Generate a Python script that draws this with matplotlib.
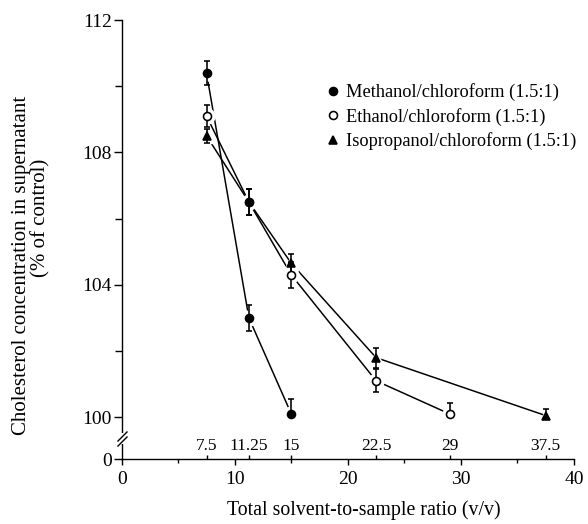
import numpy as np
import matplotlib
matplotlib.use('Agg')
import matplotlib.pyplot as plt

plt.rcParams['font.family'] = ['Liberation Serif', 'DejaVu Serif']

# solvent-to-sample ratios and cholesterol in supernatant (% of control)
meth_x = [7.5, 11.25, 15]
meth_y = [110.4, 103.0, 100.1]
meth_err = [0.35, 0.4, 0.45]

eth_x = [7.5, 11.25, 15, 22.5, 29]
eth_y = [109.1, 106.5, 104.3, 101.1, 100.1]
eth_err = [0.32, 0.4, 0.4, 0.35, 0.33]

iso_x = [7.5, 11.25, 15, 22.5, 37.5]
iso_y = [108.5, 106.5, 104.65, 101.8, 100.05]
iso_err = [0.22, 0.4, 0.28, 0.3, 0.2]

ratio_ticks = [7.5, 11.25, 15, 22.5, 29, 37.5]
ratio_labels = ['7.5', '11.25', '15', '22.5', '29', '37.5']

series = [
    ('Methanol/chloroform (1.5:1)', meth_x, meth_y, meth_err, 'o', 'black', 8),
    ('Ethanol/chloroform (1.5:1)', eth_x, eth_y, eth_err, 'o', 'white', 8),
    ('Isopropanol/chloroform (1.5:1)', iso_x, iso_y, iso_err, '^', 'black', 7.5),
]

# broken y axis: 0 squeezed just below 100
SQ = 0.0127
def fwd(y):
    y = np.asarray(y, dtype=float)
    return np.where(y >= 100, y - 100, (y - 100) * SQ)

def inv(v):
    v = np.asarray(v, dtype=float)
    return np.where(v >= 0, v + 100, v / SQ + 100)

fig = plt.figure(figsize=(5.88, 5.24), dpi=100)
ax = fig.add_axes([121.7 / 588, 1 - 459.3 / 524, (574 - 121.7) / 588, (459.3 - 20) / 524])
ax.set_yscale('function', functions=(fwd, inv))

px = 72 / 100.0  # points per pixel
for name, x, y, e, m, fc, ms in series:
    ax.plot(x, y, color='black', lw=1.5 * px, zorder=1)
    mk = None
    if name.startswith('Iso'):
        mk = [0, 2, 3, 4]  # hidden under the ethanol point at 11.25
    ax.plot(x, y, ls='none', marker=m, ms=(ms + 7) * px, mfc='white', mec='white',
            markevery=mk, zorder=2)
    ax.errorbar(x, y, yerr=e, fmt='none', ecolor='black', elinewidth=1.6 * px,
                capsize=3.2 * px, capthick=1.6 * px, zorder=3)
    ax.plot(x, y, ls='none', marker=m, ms=ms * px, mfc=fc, mec='black',
            mew=1.6 * px, markevery=mk, zorder=4, label=name)

# overlapping ethanol/isopropanol point reads as a solid dot
ax.plot(eth_x[1], eth_y[1], ls='none', marker='o', ms=8 * px, mfc='black',
        mec='black', zorder=5)

ax.set_xlim(0, 40)
ax.set_ylim(0, 112)
ax.set_xticks([0, 10, 20, 30, 40])
ax.set_xticks([5, 15, 25, 35], minor=True)
ax.set_yticks([0, 100, 104, 108, 112])
ax.set_yticks([102, 106, 110], minor=True)

for s in ['top', 'right']:
    ax.spines[s].set_visible(False)
for s in ['left', 'bottom']:
    ax.spines[s].set_linewidth(1.4 * px)

ax.tick_params(axis='x', which='major', direction='out', length=6 * px,
               width=1.4 * px, labelsize=14, pad=6 * px)
ax.tick_params(axis='x', which='minor', direction='out', length=4 * px,
               width=1.4 * px)
ax.tick_params(axis='y', which='major', direction='out', length=8 * px,
               width=1.4 * px, labelsize=14, pad=2 * px)
ax.tick_params(axis='y', which='minor', direction='out', length=7 * px,
               width=1.4 * px)

# ratios actually used, marked above the x axis
sec = ax.secondary_xaxis(0)
for s in sec.spines.values():
    s.set_visible(False)
sec.set_xticks(ratio_ticks, labels=ratio_labels)
sec.tick_params(axis='x', which='major', top=True, labeltop=True, bottom=False,
                labelbottom=False, direction='out', length=4 * px,
                width=1.4 * px, labelsize=12.5, pad=1)
sec.xaxis.set_minor_locator(matplotlib.ticker.NullLocator())

# axis break marks
ax.plot([0, 0], [42, 58], color='white', lw=4 * px, clip_on=False, zorder=6,
        transform=ax.get_yaxis_transform())
slash = [(-1, -1), (1, 1)]
ax.plot([0, 0], [44, 56], ls='none', marker=slash, ms=10 * px, mec='black',
        mew=1.4 * px, clip_on=False, zorder=7, transform=ax.get_yaxis_transform())

ax.legend(loc='upper left', bbox_to_anchor=(0.45, 0.856), frameon=False,
          fontsize=13.2, handlelength=0.8, handletextpad=0.35, labelspacing=0.36,
          borderaxespad=0, borderpad=0)

fig.text(21.5 / 588, 1 - 265 / 524, 'Cholesterol concentration in supernatant',
         rotation=90, ha='center', va='center', fontsize=15)
fig.text(40.5 / 588, 1 - 218 / 524, '(% of control)',
         rotation=90, ha='center', va='center', fontsize=15)
fig.text(364 / 588, 1 - 515 / 524, 'Total solvent-to-sample ratio (v/v)',
         ha='center', va='baseline', fontsize=14.3)

fig.savefig('out.png', dpi=100)
